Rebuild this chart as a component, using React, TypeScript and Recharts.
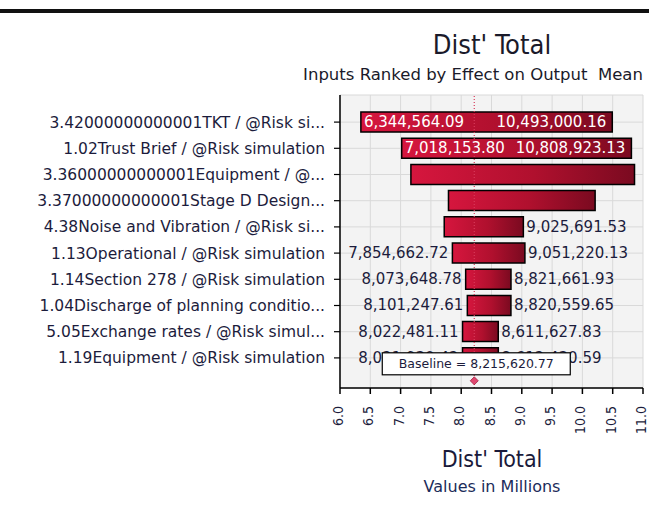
import { BarChart, Bar, XAxis, YAxis, CartesianGrid, ReferenceLine } from 'recharts';

const FONT = '"DejaVu Sans", sans-serif';
const FONT_C = '"DejaVu Sans Condensed", "DejaVu Sans", sans-serif';
const TEXT = '#1c1c3c';

const categories = [
  '3.42000000000001TKT / @Risk si...',
  '1.02Trust Brief / @Risk simulation',
  '3.36000000000001Equipment / @...',
  '3.37000000000001Stage D Design...',
  '4.38Noise and Vibration / @Risk si...',
  '1.13Operational / @Risk simulation',
  '1.14Section 278 / @Risk simulation',
  '1.04Discharge of planning conditio...',
  '5.05Exchange rates / @Risk simul...',
  '1.19Equipment / @Risk simulation',
];

const lowValues = [
  6344564.09, 7018153.8, 7170000, 7790000, 7720000, 7854662.72, 8073648.78, 8101247.61, 8022481.11,
  8021930.42,
];
const highValues = [
  10493000.16, 10808923.13, 10860000, 10210000, 9025691.53, 9051220.13, 8821661.93, 8820559.65,
  8611627.83, 8612430.59,
];
const showLow = [true, true, false, false, false, true, true, true, true, true];
const showHigh = [true, true, false, false, true, true, true, true, true, true];

const baseline = 8215620.77;
const xTicks = [6, 6.5, 7, 7.5, 8, 8.5, 9, 9.5, 10, 10.5, 11];

const data = categories.map((name, i) => ({
  name,
  range: [lowValues[i] / 1e6, highValues[i] / 1e6],
}));

const fmt = (v: number) =>
  v.toLocaleString('en-US', { minimumFractionDigits: 2, maximumFractionDigits: 2 });

function BarLabels(props: any) {
  const { x, y, width, height, index } = props;
  const cy = y + height / 2;
  const inside = width > 180;
  const style = { fontFamily: FONT, fontSize: 15 };
  const last = index === categories.length - 1;
  // baseline position through the bar's own scale
  const pxPerUnit = width / ((highValues[index] - lowValues[index]) / 1e6);
  const bx = x + ((baseline - lowValues[index]) / 1e6) * pxPerUnit;
  return (
    <g>
      {showLow[index] && (
        <text
          x={inside ? x + 3 : x - 4}
          y={cy}
          dominantBaseline="central"
          textAnchor={inside ? 'start' : 'end'}
          fill={inside ? '#ffffff' : TEXT}
          style={style}
        >
          {fmt(lowValues[index])}
        </text>
      )}
      {showHigh[index] && (
        <text
          x={inside ? x + width - 6 : x + width + 3}
          y={cy}
          dominantBaseline="central"
          textAnchor={inside ? 'end' : 'start'}
          fill={inside ? '#ffffff' : TEXT}
          style={style}
        >
          {fmt(highValues[index])}
        </text>
      )}
      {last && (
        <g>
          <rect x={bx - 92} y={y + 5} width={188} height={22} fill="#ffffff" stroke="#000" strokeWidth={1.2} />
          <text
            x={bx + 2}
            y={y + 16}
            textAnchor="middle"
            dominantBaseline="central"
            fill={TEXT}
            style={{ fontFamily: FONT, fontSize: 12.5 }}
          >
            {`Baseline = ${fmt(baseline)}`}
          </text>
          <path d={`M${bx},${y + 29} l4,4 l-4,4 l-4,-4 z`} fill="#e04870" stroke="#a02040" strokeWidth={0.8} />
        </g>
      )}
    </g>
  );
}

function XTick(props: any) {
  const { x, y, payload } = props;
  return (
    <text
      x={x - 2}
      y={y + 10}
      transform={`rotate(-90, ${x - 2}, ${y + 10})`}
      textAnchor="end"
      dominantBaseline="central"
      fill={TEXT}
      style={{ fontFamily: FONT_C, fontSize: 14 }}
    >
      {payload.value.toFixed(1)}
    </text>
  );
}

export default function App() {
  return (
    <div style={{ position: 'absolute', left: 0, top: 0, width: 649, height: 509, background: '#fff' }}>
      <div style={{ position: 'absolute', left: 0, top: 9, width: 649, height: 4, background: '#111' }} />
      <div
        style={{
          position: 'absolute', left: 342, width: 300, top: 28, textAlign: 'center',
          fontFamily: FONT_C, fontSize: 27, color: '#1a1a2a', lineHeight: '34px',
        }}
      >
        Dist' Total
      </div>
      <div
        style={{
          position: 'absolute', left: 273, width: 400, top: 65, textAlign: 'center',
          fontFamily: FONT, fontSize: 16.5, color: '#1a1a2a', lineHeight: '20px', whiteSpace: 'pre',
        }}
      >
        {'Inputs Ranked by Effect on Output  Mean'}
      </div>
      <BarChart
        width={649}
        height={509}
        data={data}
        layout="vertical"
        margin={{ top: 95, right: 6, bottom: 0, left: 0 }}
        barCategoryGap={6}
      >
        <defs>
          <linearGradient id="barGrad" x1="0" y1="0" x2="1" y2="0">
            <stop offset="0%" stopColor="#d6163e" />
            <stop offset="55%" stopColor="#b0102e" />
            <stop offset="100%" stopColor="#7a0a20" />
          </linearGradient>
        </defs>
        <CartesianGrid fill="#f3f3f3" stroke="#d9d9d9" />
        <XAxis
          type="number"
          domain={[6, 11]}
          ticks={xTicks}
          interval={0}
          height={121}
          axisLine={{ stroke: '#000', strokeWidth: 1.5 }}
          tickLine={{ stroke: '#000', strokeWidth: 1.5 }}
          tickSize={6}
          tick={<XTick />}
        />
        <YAxis
          type="category"
          dataKey="name"
          width={340}
          interval={0}
          padding={{ top: 14, bottom: 17 }}
          axisLine={{ stroke: '#000', strokeWidth: 1.5 }}
          tickLine={{ stroke: '#000', strokeWidth: 1.2 }}
          tickSize={6}
          tickMargin={9}
          tick={{ fill: TEXT, fontSize: 15.5, fontFamily: FONT }}
        />
        <ReferenceLine x={baseline / 1e6} stroke="#d83a5a" strokeDasharray="1 2" strokeWidth={1.2} />
        <Bar
          dataKey="range"
          fill="url(#barGrad)"
          stroke="#000"
          strokeWidth={1.5}
          barSize={20}
          isAnimationActive={false}
          label={<BarLabels />}
        />
      </BarChart>
      <div
        style={{
          position: 'absolute', left: 342, width: 300, top: 445, textAlign: 'center',
          fontFamily: FONT_C, fontSize: 23, color: '#1a1a3a', lineHeight: '28px',
        }}
      >
        Dist' Total
      </div>
      <div
        style={{
          position: 'absolute', left: 342, width: 300, top: 477, textAlign: 'center',
          fontFamily: FONT, fontSize: 16, color: '#1c2c5a', lineHeight: '20px',
        }}
      >
        Values in Millions
      </div>
    </div>
  );
}
